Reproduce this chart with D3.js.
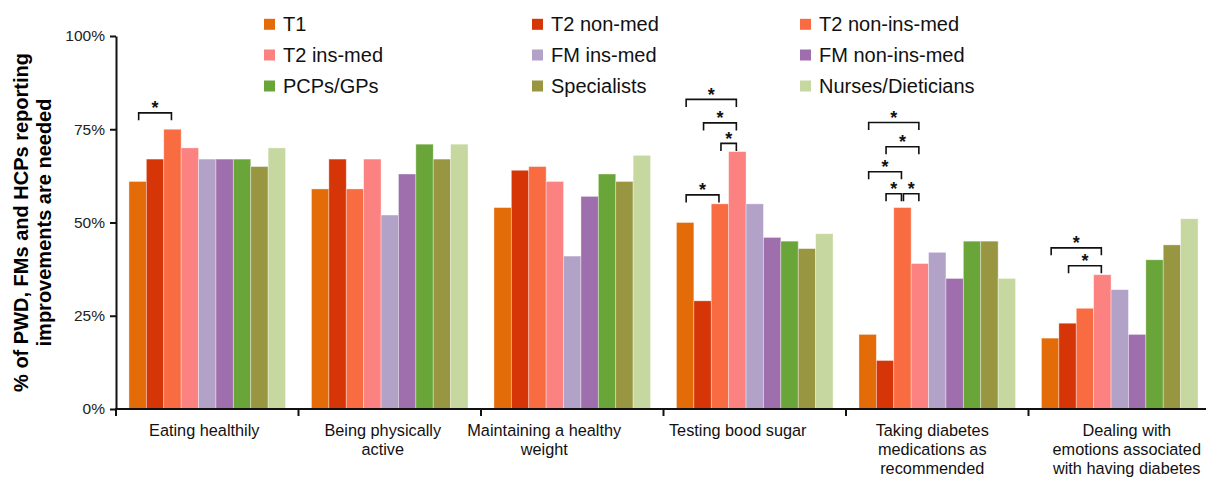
<!DOCTYPE html>
<html>
<head>
<meta charset="utf-8">
<script src="https://cdn.jsdelivr.net/npm/d3@7"></script>
<style>
  html, body { margin: 0; padding: 0; background: #fff; }
  svg { display: block; font-family: "Liberation Sans", Arial, sans-serif; }
</style>
</head>
<body>
<svg id="chart" width="1206" height="477"></svg>
<script>
// ---------------- data ----------------
const categories = [
  "Eating healthily",
  "Being physically active",
  "Maintaining a healthy weight",
  "Testing bood sugar",
  "Taking diabetes medications as recommended",
  "Dealing with emotions associated with having diabetes"
];
const categoryLines = [
  ["Eating healthily"],
  ["Being physically", "active"],
  ["Maintaining a healthy", "weight"],
  ["Testing bood sugar"],
  ["Taking diabetes", "medications as", "recommended"],
  ["Dealing with", "emotions associated", "with having diabetes"]
];
const series = ["T1", "T2 non-med", "T2 non-ins-med", "T2 ins-med", "FM ins-med",
                "FM non-ins-med", "PCPs/GPs", "Specialists", "Nurses/Dieticians"];

const T1            = [61, 59, 54, 50, 20, 19];
const T2nonMed      = [67, 67, 64, 29, 13, 23];
const T2nonInsMed   = [75, 59, 65, 55, 54, 27];
const T2insMed      = [70, 67, 61, 69, 39, 36];
const FMinsMed      = [67, 52, 41, 55, 42, 32];
const FMnonInsMed   = [67, 63, 57, 46, 35, 20];
const PCPs          = [67, 71, 63, 45, 45, 40];
const Specialists   = [65, 67, 61, 43, 45, 44];
const Nurses        = [70, 71, 68, 47, 35, 51];
const seriesValues = [T1, T2nonMed, T2nonInsMed, T2insMed, FMinsMed, FMnonInsMed, PCPs, Specialists, Nurses];

const yTicks = [0, 25, 50, 75, 100];
const yTitle = ["% of PWD, FMs and HCPs reporting", "improvements are needed"];

// significance brackets: category index, from series, to series, level (%)
const brackets = [
  [0, "T1", "T2 non-ins-med", 79.4],
  [3, "T1", "T2 ins-med", 83.0],
  [3, "T2 non-med", "T2 ins-med", 76.7],
  [3, "T2 non-ins-med", "T2 ins-med", 71.2],
  [3, "T1", "T2 non-ins-med", 57.4],
  [4, "T1", "T2 ins-med", 76.8],
  [4, "T2 non-med", "T2 ins-med", 70.3],
  [4, "T1", "T2 non-ins-med", 63.6],
  [4, "T2 non-med", "T2 non-ins-med", 57.7],
  [4, "T2 non-ins-med", "T2 ins-med", 57.7],
  [5, "T1", "T2 ins-med", 43.2],
  [5, "T2 non-med", "T2 ins-med", 38.4]
];

// ---------------- style / layout ----------------
const colors = ["#E36C09", "#D53507", "#F96C41", "#FB8280", "#B3A2C7",
                "#9E6FAC", "#6AA53A", "#989640", "#C6D89F"];
const labelDx = [-3, -7, -28, -17, -5, 7];
const plot = { left: 116, top: 36, bottom: 409, step: 182.5 };

const svg = d3.select("#chart");

const x0 = d3.scaleBand()
  .domain(categories)
  .range([plot.left, plot.left + plot.step * categories.length])
  .padding(0);
const x1 = d3.scaleBand()
  .domain(series)
  .range([0, x0.bandwidth()])
  .paddingInner(0)
  .paddingOuter(0.745);
const y = d3.scaleLinear().domain([0, 100]).range([plot.bottom, plot.top]);
const color = d3.scaleOrdinal().domain(series).range(colors);

// ---------------- bars ----------------
const groups = svg.append("g").selectAll("g")
  .data(categories)
  .join("g")
  .attr("transform", d => `translate(${x0(d)},0)`);

groups.selectAll("rect")
  .data((c, ci) => series.map((s, si) => ({ s, v: seriesValues[si][ci] })))
  .join("rect")
  .attr("x", d => x1(d.s))
  .attr("y", d => y(d.v))
  .attr("width", x1.bandwidth())
  .attr("height", d => y(0) - y(d.v))
  .attr("fill", d => color(d.s))
  .attr("stroke", "#fff")
  .attr("stroke-opacity", 0.45)
  .attr("stroke-width", 0.8);

// ---------------- y axis ----------------
const yAxis = svg.append("g")
  .attr("transform", `translate(${plot.left},0)`)
  .call(d3.axisLeft(y).tickValues(yTicks).tickFormat(d => d + "%").tickSize(6).tickSizeOuter(0));
yAxis.select(".domain").attr("stroke", "#111").attr("stroke-width", 2);
yAxis.selectAll(".tick line").attr("stroke", "#111").attr("stroke-width", 2);
yAxis.selectAll(".tick text")
  .attr("font-size", "15.5px")
  .attr("fill", "#222")
  .attr("font-family", "Liberation Sans, Arial, sans-serif")
  .attr("x", -11);

// y title
const yt = svg.append("g");
yTitle.forEach((t, i) => {
  yt.append("text")
    .attr("transform", `translate(${28 + i * 23},${(plot.top + plot.bottom) / 2}) rotate(-90)`)
    .attr("text-anchor", "middle")
    .attr("font-weight", "bold")
    .attr("font-size", "20px")
    .attr("fill", "#000")
    .text(t);
});

// ---------------- x axis ----------------
const xAxis = svg.append("g");
xAxis.append("line")
  .attr("x1", plot.left - 1).attr("x2", 1206)
  .attr("y1", y(0)).attr("y2", y(0))
  .attr("stroke", "#111").attr("stroke-width", 2);
xAxis.selectAll("line.tk")
  .data(categories)
  .join("line")
  .attr("class", "tk")
  .attr("x1", d => x0(d)).attr("x2", d => x0(d))
  .attr("y1", y(0)).attr("y2", y(0) + 7)
  .attr("stroke", "#111").attr("stroke-width", 2);

const xl = xAxis.selectAll("text.xl")
  .data(categories)
  .join("text")
  .attr("class", "xl")
  .attr("text-anchor", "middle")
  .attr("font-size", "16.3px")
  .attr("fill", "#111");
xl.each(function (d, i) {
  const t = d3.select(this);
  categoryLines[i].forEach((ln, li) => {
    t.append("tspan")
      .attr("x", x0(d) + x0.bandwidth() / 2 + labelDx[i])
      .attr("y", 436 + li * 19)
      .text(ln);
  });
});

// ---------------- significance brackets ----------------
const bg = svg.append("g");
brackets.forEach(([ci, a, b, lvl]) => {
  const gx = x0(categories[ci]);
  const xa = gx + x1(a) + x1.bandwidth() / 2 + 1;
  const xb = gx + x1(b) + x1.bandwidth() / 2 - 1;
  const yy = y(lvl);
  bg.append("path")
    .attr("d", `M${xa},${yy + 7.5}V${yy}H${xb}V${yy + 7.5}`)
    .attr("fill", "none")
    .attr("stroke", "#111")
    .attr("stroke-width", 1.6);
  bg.append("text")
    .attr("x", (xa + xb) / 2)
    .attr("y", yy + 1.5)
    .attr("text-anchor", "middle")
    .attr("font-size", "18px")
    .attr("font-weight", "bold")
    .attr("fill", "#111")
    .text("*");
});

// ---------------- legend ----------------
const legX = [264, 532, 800];
const legY = [24.3, 55, 86];
const leg = svg.append("g").selectAll("g")
  .data(series)
  .join("g")
  .attr("transform", (d, i) => `translate(${legX[i % 3]},${legY[Math.floor(i / 3)]})`);
leg.append("rect")
  .attr("x", 0).attr("y", -5.5)
  .attr("width", 11).attr("height", 11)
  .attr("fill", d => color(d));
leg.append("text")
  .attr("x", 19)
  .attr("y", 7)
  .attr("font-size", "20px")
  .attr("fill", "#111")
  .text(d => d);
</script>
</body>
</html>
